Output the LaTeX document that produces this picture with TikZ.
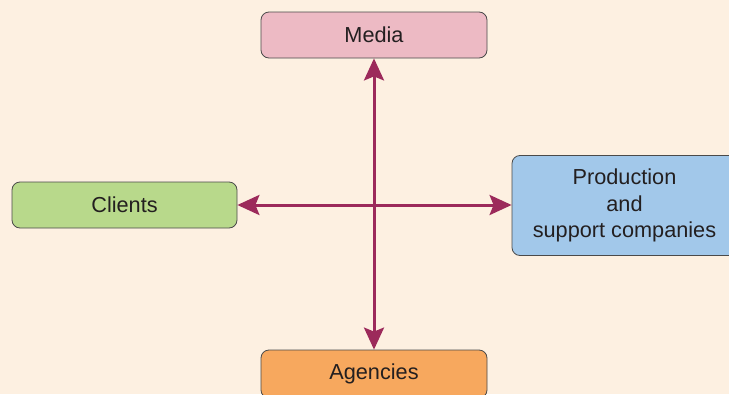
\documentclass[tikz,border=0pt]{standalone}
\usepackage{fontspec}
\setmainfont{Liberation Sans}
\usetikzlibrary{arrows.meta}
\definecolor{bg}{HTML}{FDF0E1}
\definecolor{mediaC}{HTML}{EDBAC4}
\definecolor{clientsC}{HTML}{B8D98B}
\definecolor{prodC}{HTML}{A2C8EA}
\definecolor{agencyC}{HTML}{F7A85E}
\definecolor{arrC}{HTML}{9C2A5B}
\definecolor{txtC}{HTML}{231F20}
\definecolor{borderC}{HTML}{4A4A4A}
\tikzset{
  box/.style={rectangle, rounded corners=8pt, draw=borderC, line width=0.8pt,
    text=txtC, font=\fontsize{21.7}{26.5}\selectfont, align=center, inner sep=0pt},
  conn/.style={draw=arrC, line width=3pt,
    {Stealth[length=22pt,width=20pt,inset=4pt]}-{Stealth[length=22pt,width=20pt,inset=4pt]}}
}
\begin{document}
\begin{tikzpicture}[x=1pt,y=-1pt]
\useasboundingbox (0,0) rectangle (729,394);
\clip (0,0) rectangle (729,394);
\fill[bg] (0,0) rectangle (729,394);
\node[box, fill=mediaC, minimum width=226pt, minimum height=46pt] (media) at (374,35) {Media};
\node[box, fill=clientsC, minimum width=225pt, minimum height=46pt] (clients) at (124.5,205) {Clients};
\node[box, fill=prodC, minimum width=225pt, minimum height=100pt] (prod) at (624.5,205.5) {Production\\and\\support companies};
\node[box, fill=agencyC, minimum width=226pt, minimum height=48pt] (agencies) at (374,374) {Agencies};
\draw[conn] (media) -- (agencies);
\draw[conn] (clients.east) -- (clients.east -| prod.west);
\end{tikzpicture}
\end{document}
